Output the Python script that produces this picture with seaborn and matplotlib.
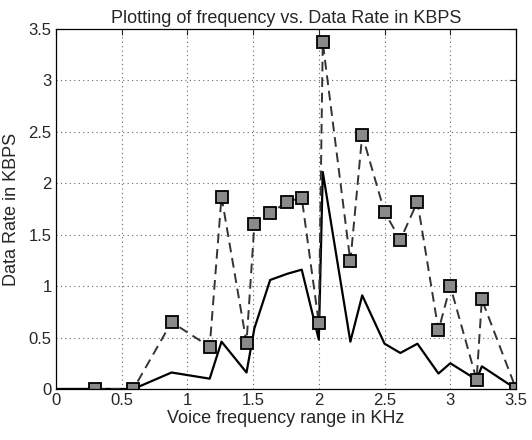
import matplotlib
matplotlib.use("Agg")
import matplotlib.pyplot as plt
import seaborn as sns

sns.set_style("white")
plt.rcParams['font.family'] = ['Liberation Sans', 'DejaVu Sans']

# frequency points (KHz)
freq = [0.30, 0.59, 0.88, 1.17, 1.26, 1.45, 1.51, 1.63, 1.76, 1.87, 2.00,
        2.03, 2.24, 2.33, 2.50, 2.62, 2.75, 2.91, 3.00, 3.20, 3.24, 3.50]
# dashed series with square markers
rate_marked = [0.0, 0.0, 0.65, 0.41, 1.87, 0.45, 1.60, 1.71, 1.82, 1.86, 0.64,
               3.37, 1.24, 2.47, 1.72, 1.45, 1.82, 0.57, 1.00, 0.09, 0.87, 0.0]
# solid series
freq_solid = [0.0] + freq
rate_solid = [0.0, 0.0, 0.0, 0.16, 0.10, 0.46, 0.16, 0.59, 1.06, 1.12, 1.16, 0.48,
              2.11, 0.46, 0.91, 0.44, 0.35, 0.44, 0.15, 0.25, 0.09, 0.22, 0.0]

fig = plt.figure(figsize=(5.32, 4.4), dpi=100)
ax = fig.add_axes([0.105, 0.116, 0.865, 0.818])

sns.lineplot(x=freq_solid, y=rate_solid, color="black", linewidth=1.6,
             estimator=None, sort=False, ax=ax)
sns.lineplot(x=freq, y=rate_marked, color="#333333", linewidth=1.4,
             linestyle=(0, (5, 3)), marker="s", markersize=8.5,
             markerfacecolor="#8a8a8a", markeredgecolor="black",
             markeredgewidth=1.3, estimator=None, sort=False, ax=ax)

ax.set_xlim(0, 3.5)
ax.set_ylim(0, 3.5)
ticks = [0, 0.5, 1, 1.5, 2, 2.5, 3, 3.5]
labels = ["0", "0.5", "1", "1.5", "2", "2.5", "3", "3.5"]
ax.set_xticks(ticks)
ax.set_xticklabels(labels)
ax.set_yticks(ticks)
ax.set_yticklabels(labels)
ax.grid(True, linestyle=(0, (1, 3)), color="#666666", linewidth=0.8)
ax.tick_params(direction="in", top=True, right=True, length=4,
               labelsize=12, pad=3)
for s in ax.spines.values():
    s.set_color("black")
    s.set_linewidth(0.9)

ax.set_title("Plotting of frequency vs. Data Rate in KBPS", fontsize=13, pad=4)
ax.set_xlabel("Voice frequency range in KHz", fontsize=13, labelpad=1)
ax.set_ylabel("Data Rate in KBPS", fontsize=13, labelpad=6)

fig.savefig("out.png", dpi=100)
